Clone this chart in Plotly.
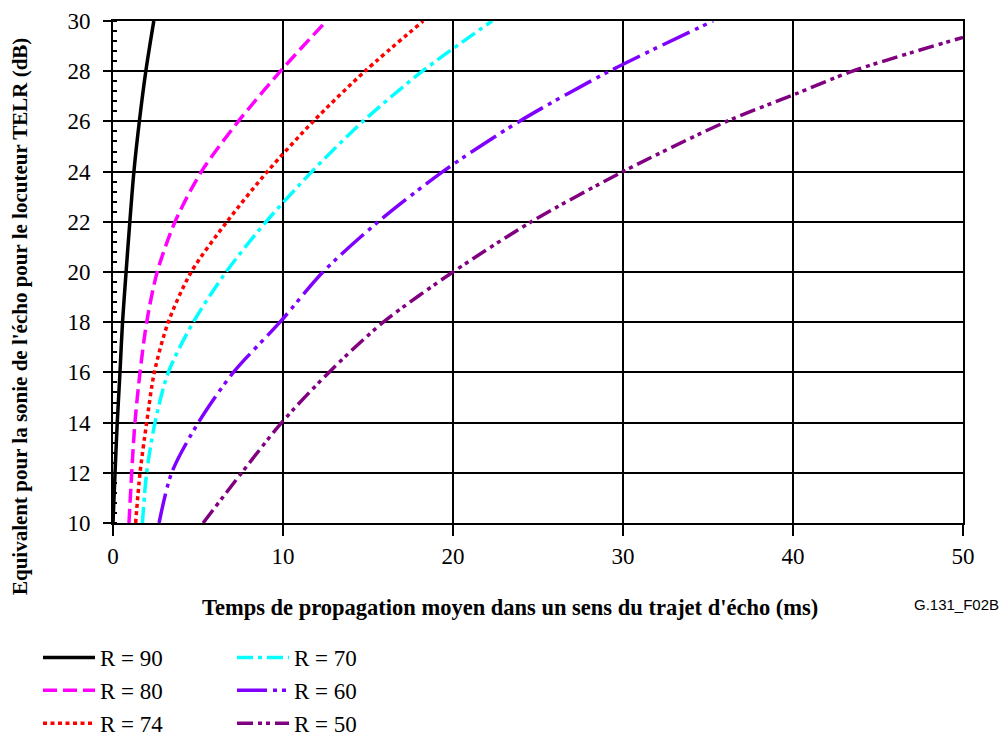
import plotly.graph_objects as go

# TELR (dB) levels on which each curve is sampled
telr = [10, 12, 14, 16, 18, 20, 22, 24, 26, 28, 30]

# one-way delay (ms) for each R curve at the TELR levels above
delay_r90 = [0.0, 0.12, 0.25, 0.41, 0.56, 0.77, 0.99, 1.23, 1.55, 1.93, 2.4]
delay_r80 = [0.94, 1.1, 1.29, 1.59, 1.98, 2.6, 3.65, 5.2, 7.37, 9.85, 12.55]
delay_r74 = [1.33, 1.59, 1.98, 2.43, 3.25, 4.6, 6.7, 9.08, 11.78, 14.82, 18.25]
delay_r70 = [1.73, 1.98, 2.47, 3.25, 4.72, 6.65, 9.0, 11.7, 14.7, 18.2, 22.3]
delay_r60 = [2.71, 3.45, 5.02, 7.08, 9.82, 12.35, 15.6, 19.4, 23.9, 29.2, 35.3]
# R=50 leaves the plot on the right edge before reaching 30 dB
delay_r50 = [5.3, 7.57, 9.92, 12.7, 15.9, 20.0, 24.6, 30.0, 36.1, 40.0, 43.5, 50.0]
telr_r50 = [10, 12, 14, 16, 18, 20, 22, 24, 26, 27.05, 28, 29.35]

x_ticks = [0, 10, 20, 30, 40, 50]
y_ticks = [10, 12, 14, 16, 18, 20, 22, 24, 26, 28, 30]

SERIF = "Liberation Serif, Times New Roman, serif"

fig = go.Figure()

series = [
    ("R = 90", delay_r90, telr, "#000000", "solid", "legend"),
    ("R = 80", delay_r80, telr, "#FF00FF", "14px,6px", "legend"),
    ("R = 74", delay_r74, telr, "#FF0000", "4px,3.5px", "legend"),
    ("R = 70", delay_r70, telr, "#00FFFF", "16px,5px,4px,5px", "legend2"),
    ("R = 60", delay_r60, telr, "#7F00FF", "30px,6px,4px,5px,4px,6px", "legend2"),
    ("R = 50", delay_r50, telr_r50, "#800080", "16px,5px,4px,4px,4px,5px", "legend2"),
]

for i, (name, xs, ys, color, dash, leg) in enumerate(series):
    fig.add_trace(go.Scatter(
        x=xs, y=ys, mode="lines", name=name,
        line=dict(color=color, width=3.5, dash=dash, shape="spline", smoothing=0.8),
        legend=leg, legendgroup=f"g{i}", showlegend=True,
    ))

leg_common = dict(
    xref="container", yref="container", y=1 - 636 / 744,
    xanchor="left", yanchor="top", bgcolor="rgba(0,0,0,0)",
    font=dict(family=SERIF, size=23), tracegroupgap=0, traceorder="grouped",
    itemwidth=52,
)

fig.update_layout(
    width=1004, height=744,
    margin=dict(l=113, r=41, t=21, b=221, autoexpand=False),
    plot_bgcolor="white", paper_bgcolor="white",
    font=dict(family=SERIF, size=22, color="black"),
    legend=dict(x=38 / 1004, **leg_common),
    legend2=dict(x=232 / 1004, **leg_common),
)

fig.update_xaxes(
    range=[0, 50], tickvals=x_ticks, ticktext=[str(v) for v in x_ticks],
    showgrid=True, gridcolor="black", gridwidth=2,
    showline=True, linecolor="black", linewidth=2, mirror=True,
    ticks="outside", ticklen=11, tickwidth=2, tickcolor="black",
    zeroline=False, tickfont=dict(family=SERIF, size=23),
)
fig.update_yaxes(
    range=[10, 30], tickvals=y_ticks, ticktext=[str(v) for v in y_ticks],
    showgrid=True, gridcolor="black", gridwidth=2,
    showline=True, linecolor="black", linewidth=2, mirror=True,
    ticks="outside", ticklen=8, tickwidth=2, tickcolor="black",
    zeroline=False, tickfont=dict(family=SERIF, size=23), ticklabelstandoff=8,
    minor=dict(dtick=0.4, ticks="inside", ticklen=4, tickwidth=1.5, tickcolor="black", showgrid=False),
)

fig.add_annotation(
    text="<b>Temps de propagation moyen dans un sens du trajet d'écho (ms)</b>",
    xref="paper", yref="paper", x=(510 - 113) / 850, y=-(607 - 523) / 502,
    showarrow=False, xanchor="center", yanchor="middle",
    font=dict(family=SERIF, size=22.5, color="black"),
)
fig.add_annotation(
    text="<b>Equivalent pour la sonie de l'écho pour le locuteur TELR (dB)</b>",
    xref="paper", yref="paper", x=-(113 - 20) / 850, y=(523 - 317) / 502,
    showarrow=False, xanchor="center", yanchor="middle", textangle=-90,
    font=dict(family=SERIF, size=21, color="black"),
)
fig.add_annotation(
    text="G.131_F02B",
    xref="paper", yref="paper", x=(956 - 113) / 850, y=-(604 - 523) / 502,
    showarrow=False, xanchor="center", yanchor="middle",
    font=dict(family="Liberation Sans, Arial, sans-serif", size=15, color="black"),
)

fig.write_html("out.html")
